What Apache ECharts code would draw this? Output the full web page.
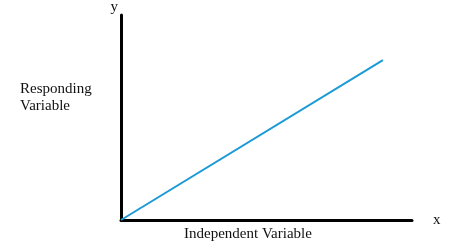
<!DOCTYPE html>
<html><head><meta charset="utf-8">
<script src="https://cdn.jsdelivr.net/npm/echarts@6/dist/echarts.min.js"></script>
<style>html,body{margin:0;padding:0;background:#fff}#c{width:474px;height:250px}</style>
</head><body><div id="c"></div>
<script>
const lineX = [0, 9];
const lineY = [0, 7.8];
const xName = 'x';
const yName = 'y';
const xTitle = 'Independent Variable';
const yTitle = 'Responding\nVariable';

const chart = echarts.init(document.getElementById('c'), null, {renderer: 'canvas'});
const font = 'Liberation Serif';
chart.setOption({
  animation: false,
  grid: {left: 121, right: 62, top: 13, bottom: 30},
  xAxis: {type: 'value', min: 0, max: 10, name: xName, nameLocation: 'end', nameGap: 21,
    nameTextStyle: {fontFamily: font, fontSize: 15, color: '#111', verticalAlign: 'middle', padding:[6,0,0,0]},
    axisLine: {lineStyle: {color: '#000', width: 3}}, axisTick: {show: false}, axisLabel: {show: false}, splitLine: {show: false}},
  yAxis: {type: 'value', min: 0, max: 10, name: yName, nameLocation: 'end', nameGap: 0,
    nameTextStyle: {fontFamily: font, fontSize: 15, color: '#111', align: 'right', padding:[0,3,0,0]},
    axisLine: {show: true, lineStyle: {color: '#000', width: 3}}, axisTick: {show: false}, axisLabel: {show: false}, splitLine: {show: false}},
  graphic: [
    {type: 'text', left: 20, top: 81, style: {text: yTitle, font: '15px "' + font + '"', fill: '#111', lineHeight: 17}},
    {type: 'text', left: 184, top: 227, style: {text: xTitle, font: '15px "' + font + '"', fill: '#111'}}
  ],
  series: [{type: 'line', data: lineX.map((x, i) => [x, lineY[i]]), symbol: 'none',
    lineStyle: {color: '#1b9ad6', width: 2}}]
});
</script></body></html>
